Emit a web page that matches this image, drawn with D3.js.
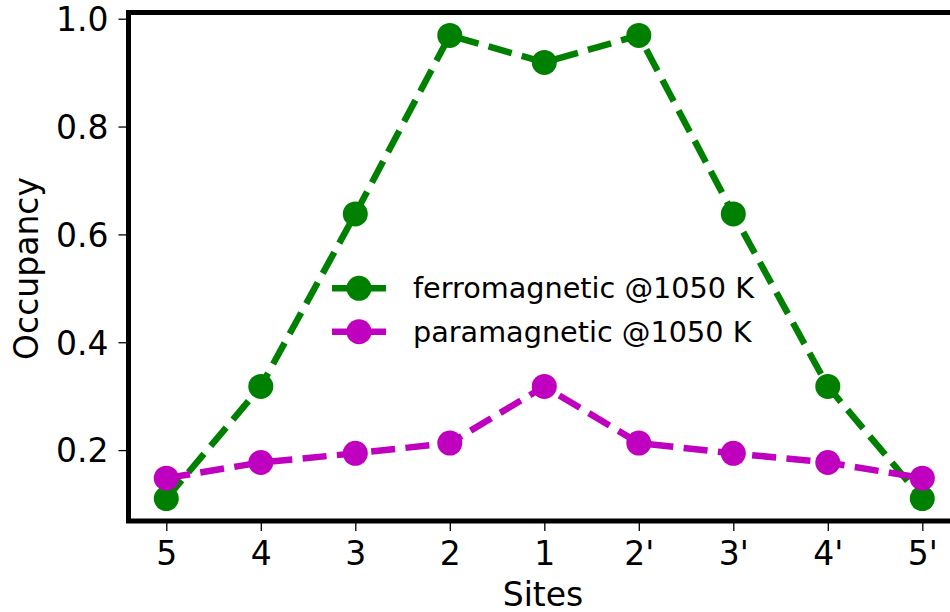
<!DOCTYPE html>
<html>
<head>
<meta charset="utf-8">
<script src="https://cdn.jsdelivr.net/npm/d3@7"></script>
<style>
  html, body { margin: 0; padding: 0; background: #fff; }
  svg { display: block; font-family: "DejaVu Sans", sans-serif; }
</style>
</head>
<body>
<svg id="chart" width="950" height="612"></svg>
<script>
// Site labels along the chain
const sites = ["5", "4", "3", "2", "1", "2'", "3'", "4'", "5'"];
// Occupancy per site
const ferroValues = [0.11, 0.318, 0.638, 0.969, 0.919, 0.969, 0.638, 0.318, 0.11];
const paraValues  = [0.148, 0.177, 0.194, 0.213, 0.318, 0.213, 0.194, 0.177, 0.148];
const yTicks = [0.2, 0.4, 0.6, 0.8, 1.0];
const seriesNames = ["ferromagnetic @1050 K", "paramagnetic @1050 K"];
const seriesColors = ["#008000", "#bf00bf"];

const series = [
  { name: seriesNames[0], values: ferroValues, color: seriesColors[0] },
  { name: seriesNames[1], values: paraValues,  color: seriesColors[1] }
];

const svg = d3.select("#chart");
const plotLeft = 128.5, plotTop = 12.5, plotBottom = 521;
const step = 94.5;
const plotRight = plotLeft + step * 8.8;

const x = d3.scalePoint().domain(sites).range([plotLeft, plotRight]).padding(0.4);
const y = d3.scaleLinear().domain([0.0685, 1.0115]).range([plotBottom, plotTop]);

const lw = 6.5;
const dash = [3.7 * lw, 1.6 * lw].join(",");
const r = 12.5;

// data series: each line with its markers on top
const line = d3.line().x((d, i) => x(sites[i])).y(d => y(d));
series.forEach(s => {
  const g = svg.append("g");
  g.append("path")
    .attr("d", line(s.values))
    .attr("fill", "none")
    .attr("stroke", s.color)
    .attr("stroke-width", lw)
    .attr("stroke-dasharray", dash);
  g.selectAll("circle").data(s.values).join("circle")
    .attr("cx", (d, i) => x(sites[i]))
    .attr("cy", d => y(d))
    .attr("r", r)
    .attr("fill", s.color);
});

// axes
const xAxis = d3.axisBottom(x).tickSize(10).tickPadding(10);
const gx = svg.append("g").attr("transform", `translate(0,${plotBottom})`).call(xAxis);
gx.select(".domain").remove();
gx.selectAll("line").attr("stroke", "#000").attr("stroke-width", 1.3);
gx.selectAll("text").attr("font-size", 33).attr("font-family", "DejaVu Sans").attr("fill", "#000")
  .attr("y", 20).attr("dy", "0.73em");

const yAxis = d3.axisLeft(y).tickValues(yTicks).tickFormat(d3.format(".1f")).tickSize(10).tickPadding(10);
const gy = svg.append("g").attr("transform", `translate(${plotLeft},0)`).call(yAxis);
gy.select(".domain").remove();
gy.selectAll("line").attr("stroke", "#000").attr("stroke-width", 1.3);
gy.selectAll("text").attr("font-size", 33).attr("font-family", "DejaVu Sans").attr("fill", "#000")
  .attr("x", -20).attr("dy", "0.36em");

// frame
svg.append("rect")
  .attr("x", plotLeft).attr("y", plotTop)
  .attr("width", plotRight - plotLeft).attr("height", plotBottom - plotTop)
  .attr("fill", "none").attr("stroke", "#000").attr("stroke-width", 5);

// axis titles
svg.append("text")
  .attr("x", 543).attr("y", 606)
  .attr("text-anchor", "middle").attr("font-size", 33).text("Sites");
svg.append("text")
  .attr("transform", "translate(38,268.5) rotate(-90)")
  .attr("text-anchor", "middle").attr("font-size", 33).text("Occupancy");

// legend
const legend = svg.append("g");
series.forEach((s, i) => {
  const cy = 288.3 + i * 43.4;
  legend.append("line")
    .attr("x1", 332).attr("x2", 386).attr("y1", cy).attr("y2", cy)
    .attr("stroke", s.color).attr("stroke-width", lw).attr("stroke-dasharray", dash);
  legend.append("circle").attr("cx", 359).attr("cy", cy).attr("r", r).attr("fill", s.color);
  legend.append("text").attr("x", 413).attr("y", cy + 10)
    .attr("font-size", 28.7).attr("fill", "#000").text(s.name);
});
</script>
</body>
</html>
